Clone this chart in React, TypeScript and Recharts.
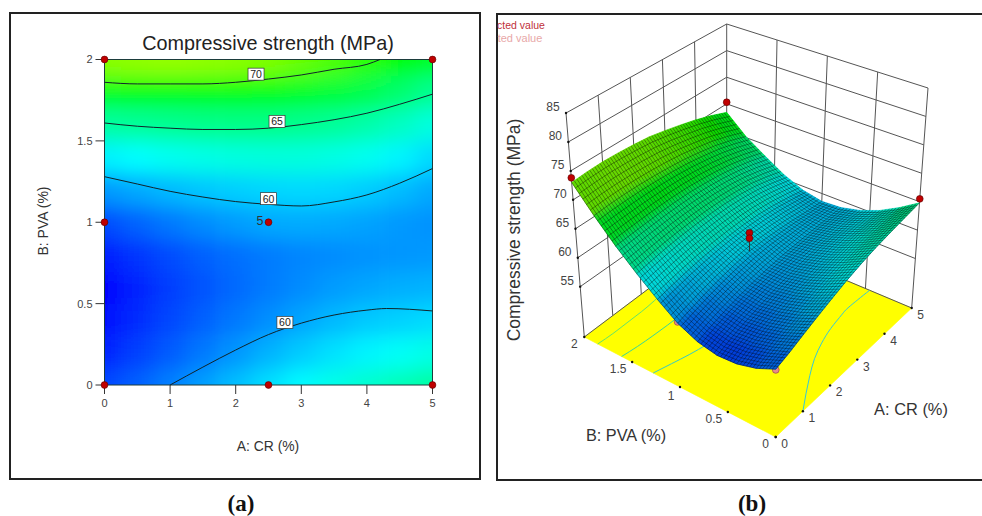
import React from 'react';
import { ComposedChart, Line, Scatter, XAxis, YAxis, ReferenceArea } from 'recharts';

// Strength, one list per B: PVA level, A: CR from 0 to 5 in steps of 0.5
const crLevels = [0, 0.5, 1, 1.5, 2, 2.5, 3, 3.5, 4, 4.5, 5];
const pvaLevels = [0, 0.2, 0.4, 0.6, 0.8, 1, 1.2, 1.4, 1.6, 1.8, 2];
const strengthPva00 = [56.2, 57.0, 58.0, 59.0, 60.0, 61.0, 61.9, 62.7, 63.4, 64.1, 64.8];
const strengthPva02 = [55.0, 56.0, 56.9, 57.8, 58.7, 59.6, 60.4, 61.1, 61.7, 62.2, 62.7];
const strengthPva04 = [54.3, 55.3, 56.2, 57.0, 57.8, 58.5, 59.2, 59.8, 60.3, 60.6, 60.9];
const strengthPva06 = [54.2, 55.1, 55.9, 56.6, 57.3, 57.9, 58.4, 58.9, 59.2, 59.5, 59.6];
const strengthPva08 = [54.9, 55.7, 56.4, 57.0, 57.5, 57.9, 58.2, 58.4, 58.6, 58.7, 58.8];
const strengthPva10 = [56.4, 57.1, 57.8, 58.4, 58.9, 59.3, 59.4, 59.3, 59.1, 58.8, 58.6];
const strengthPva12 = [58.8, 59.3, 59.8, 60.2, 60.5, 60.7, 60.8, 60.7, 60.4, 59.9, 59.3];
const strengthPva14 = [61.6, 62.0, 62.4, 62.7, 62.9, 63.0, 63.0, 62.8, 62.4, 61.7, 60.8];
const strengthPva16 = [64.8, 65.0, 65.2, 65.4, 65.5, 65.5, 65.3, 65.0, 64.5, 63.8, 62.9];
const strengthPva18 = [68.6, 68.8, 68.9, 68.9, 68.8, 68.6, 68.3, 67.8, 67.2, 66.3, 65.2];
const strengthPva20 = [73.0, 73.2, 73.3, 73.2, 73.0, 72.7, 72.1, 71.4, 70.6, 69.6, 68.4];
const strengthRows = [
  strengthPva00, strengthPva02, strengthPva04, strengthPva06, strengthPva08, strengthPva10,
  strengthPva12, strengthPva14, strengthPva16, strengthPva18, strengthPva20,
];

// Contour lines as [A, B]
const contour70 = [[0, 1.86], [0.5, 1.85], [1, 1.85], [1.5, 1.85], [2, 1.86], [2.5, 1.88], [3, 1.905], [3.5, 1.94], [4, 1.97], [4.2, 2]];
const contour65 = [[0, 1.61], [0.5, 1.59], [1, 1.578], [1.5, 1.57], [2, 1.57], [2.5, 1.578], [3, 1.6], [3.5, 1.63], [4, 1.67], [4.5, 1.725], [5, 1.787]];
const contour60Upper = [[0, 1.28], [0.5, 1.235], [1, 1.19], [1.5, 1.155], [2, 1.127], [2.5, 1.11], [3, 1.1], [3.5, 1.125], [4, 1.168], [4.5, 1.24], [5, 1.33]];
const contour60Lower = [[1, 0], [1.5, 0.11], [2, 0.215], [2.5, 0.31], [3, 0.38], [3.5, 0.43], [4, 0.46], [4.3, 0.47], [5, 0.455]];
const contourLines = [contour70, contour65, contour60Upper, contour60Lower];
const floorContourColors = ['#63e36a', '#38d69a', '#35c9c8', '#35c9d8'];

const contourLabels = [
  { x: 2.31, y: 1.91, text: '70' },
  { x: 2.63, y: 1.62, text: '65' },
  { x: 2.5, y: 1.145, text: '60' },
  { x: 2.75, y: 0.385, text: '60' },
];

// Design points, [A, B]
const designPoints = [[0, 0], [2.5, 0], [5, 0], [0, 1], [2.5, 1], [0, 2], [5, 2]];
// Measured values for the 3D panel, [A, B, MPa]
const pointsAbove = [[0, 2, 73.8], [5, 2, 70.3], [5, 0, 65.5], [2.5, 1, 62.4], [2.5, 1, 61.5]];
const pointsBelow = [[0, 0, 56.1], [0, 1, 56.6], [2.5, 0, 62]];

const crTicks = [0, 1, 2, 3, 4, 5];
const pvaTicks = [0, 0.5, 1, 1.5, 2];
const strengthTicks = [55, 60, 65, 70, 75, 80, 85];

const font = '"Liberation Sans", Arial, sans-serif';

// value -> Design-Expert style colour ramp
const ramp = [
  [54, 0, 0, 255],
  [62, 0, 255, 255],
  [69.5, 0, 255, 0],
  [76, 255, 255, 0],
];
const heatColor = (v: number, shade = 1) => {
  let i = 0;
  while (i < ramp.length - 2 && v > ramp[i + 1][0]) i++;
  const a = ramp[i];
  const b = ramp[i + 1];
  const t = Math.max(0, Math.min(1, (v - a[0]) / (b[0] - a[0])));
  const c = [1, 2, 3].map(k => Math.round((a[k] + (b[k] - a[k]) * t) * shade));
  return `rgb(${c[0]},${c[1]},${c[2]})`;
};

// ---- left panel ----
const plotW = 328;
const plotH = 325.5;

const heatCells = strengthRows.flatMap((row, r) =>
  row.map((value, c) => ({ x: crLevels[c], y: pvaLevels[r], value, r, c }))
);

const HeatCell = (p: any) => {
  const { cx, cy, payload } = p;
  const w = plotW / 10;
  const h = plotH / 10;
  const left = payload.c === 0 ? cx - 40 : cx - w / 2;
  const right = payload.c === 10 ? cx + 40 : cx + w / 2 + 0.5;
  const top = payload.r === 10 ? cy - 40 : cy - h / 2;
  const bottom = payload.r === 0 ? cy + 40 : cy + h / 2 + 0.5;
  return <rect x={left} y={top} width={right - left} height={bottom - top} fill={heatColor(payload.value)} />;
};

const RedDot = (p: any) => (
  <circle cx={p.cx} cy={p.cy} r={3.4} fill="#c00000" stroke="#5a0000" strokeWidth={0.6} />
);
const PinkDot = (p: any) => (
  <circle cx={p.cx} cy={p.cy} r={3.4} fill="#e88a8a" stroke="#8a3a3a" strokeWidth={0.6} />
);

const LabelBox = (p: any) => (
  <g>
    <rect x={p.cx - 8} y={p.cy - 6} width={16} height={12} fill="#fff" stroke="#333" strokeWidth={0.7} />
    <text x={p.cx} y={p.cy + 4} textAnchor="middle" fontSize={10.5} fontFamily={font} fill="#222">
      {p.payload.text}
    </text>
  </g>
);

const ContourPanel = () => (
  <ComposedChart width={490} height={516} margin={{ left: 64.5, right: 57.5, top: 59.5, bottom: 101 }}>
    <defs>
      <filter id="heatBlur" filterUnits="userSpaceOnUse" x={40} y={0} width={460} height={450}>
        <feGaussianBlur stdDeviation="11 10" />
      </filter>
      <clipPath id="plotClip">
        <rect x={104.5} y={59.5} width={plotW} height={plotH} />
      </clipPath>
    </defs>
    <XAxis
      type="number"
      dataKey="x"
      domain={[0, 5]}
      ticks={crTicks}
      height={30}
      tickSize={9}
      tickMargin={5}
      axisLine={false}
      tickLine={{ stroke: '#333' }}
      tick={{ fontSize: 11, fill: '#444', fontFamily: font }}
    />
    <YAxis
      type="number"
      dataKey="y"
      domain={[0, 2]}
      ticks={pvaTicks}
      width={40}
      tickSize={9}
      tickMargin={3}
      axisLine={false}
      tickLine={{ stroke: '#333' }}
      tick={{ fontSize: 11, fill: '#444', fontFamily: font }}
    />
    <Scatter className="heat-layer" zIndex={50} data={heatCells} shape={HeatCell} isAnimationActive={false} />
    <ReferenceArea x1={0} x2={5} y1={0} y2={2} fill="none" stroke="#1c3c3c" strokeWidth={1} ifOverflow="visible" zIndex={300} />
    {contourLines.map((line, i) => (
      <Line
        key={i}
        zIndex={400}
        data={line.map(([x, y]) => ({ x, y }))}
        dataKey="y"
        type="monotone"
        stroke="#10242a"
        strokeWidth={1}
        dot={false}
        activeDot={false}
        isAnimationActive={false}
      />
    ))}
    <Scatter zIndex={600} data={contourLabels} shape={LabelBox} isAnimationActive={false} />
    <Scatter zIndex={700} data={designPoints.map(([x, y]) => ({ x, y }))} shape={RedDot} isAnimationActive={false} />
  </ComposedChart>
);

// ---- right panel: a projected view, plotted 1:1 on hidden axes ----
const sceneW = 492;
const sceneH = 516;
const floorPts = { a0b0: [285.7, 437], a1b0: [421.7, 308], a0b1: [94.3, 337], a1b1: [236.7, 230] };
const topPts = { a0b0: [286, 172], a1b0: [438, 88], a0b1: [76, 113], a1b1: [236.7, 24] };
const zMin = 46.3;
const zMax = 85;

const bilerp = (q: any, u: number, v: number, k: number) =>
  q.a0b0[k] * (1 - u) * (1 - v) + q.a1b0[k] * u * (1 - v) + q.a0b1[k] * (1 - u) * v + q.a1b1[k] * u * v;

const project = (a: number, b: number, z: number) => {
  const u = a / 5;
  const v = b / 2;
  const t = (z - zMin) / (zMax - zMin);
  const fx = bilerp(floorPts, u, v, 0);
  const fy = bilerp(floorPts, u, v, 1);
  return { x: fx + (bilerp(topPts, u, v, 0) - fx) * t, y: fy + (bilerp(topPts, u, v, 1) - fy) * t };
};

// surface cells, back to front so nearer ones paint last
const surfaceCells: any[] = [];
for (let r = 9; r >= 0; r--) {
  for (let c = 9; c >= 0; c--) {
    const nodes = [
      project(crLevels[c], pvaLevels[r], strengthRows[r][c]),
      project(crLevels[c + 1], pvaLevels[r], strengthRows[r][c + 1]),
      project(crLevels[c + 1], pvaLevels[r + 1], strengthRows[r + 1][c + 1]),
      project(crLevels[c], pvaLevels[r + 1], strengthRows[r + 1][c]),
    ];
    const mean = (strengthRows[r][c] + strengthRows[r][c + 1] + strengthRows[r + 1][c] + strengthRows[r + 1][c + 1]) / 4;
    const x = nodes.reduce((s, n) => s + n.x, 0) / 4;
    const y = nodes.reduce((s, n) => s + n.y, 0) / 4;
    // the 3D view runs a little warmer than the flat map
    surfaceCells.push({ x, y, fill: heatColor(mean + 1.5, 0.85), corners: nodes.map(n => ({ dx: n.x - x, dy: n.y - y })) });
  }
}

const outline = [
  ...crLevels.map((a, c) => project(a, 0, strengthRows[0][c])),
  ...pvaLevels.map((b, r) => project(5, b, strengthRows[r][10])),
  ...crLevels.map((a, c) => project(a, 2, strengthRows[10][c])).reverse(),
  ...pvaLevels.map((b, r) => project(0, b, strengthRows[r][0])).reverse(),
];

const FilledQuad = (p: any) => (
  <polygon
    points={p.payload.corners.map((c: any) => `${p.cx + c.dx},${p.cy + c.dy}`).join(' ')}
    fill={p.payload.fill}
    stroke={p.payload.fill}
    strokeWidth={0.6}
  />
);

const meshSteps = [0, 1, 2, 3, 4, 5];
const MeshQuad = (p: any) => {
  const [c0, c1, c2, c3] = p.payload.corners;
  const mix = (m: any, n: any, t: number) => [p.cx + m.dx + (n.dx - m.dx) * t, p.cy + m.dy + (n.dy - m.dy) * t];
  const d = meshSteps
    .map(i => {
      const t = i / 6;
      const [ax, ay] = mix(c0, c1, t);
      const [bx, by] = mix(c3, c2, t);
      const [ex, ey] = mix(c0, c3, t);
      const [fx, fy] = mix(c1, c2, t);
      return `M${ax} ${ay}L${bx} ${by}M${ex} ${ey}L${fx} ${fy}`;
    })
    .join('');
  return <path d={d} stroke="#000" strokeWidth={0.5} strokeOpacity={0.72} fill="none" />;
};

const floorCenter = project(2.5, 1, zMin);
const floorCell = {
  ...floorCenter,
  fill: '#ffff00',
  corners: [project(0, 0, zMin), project(5, 0, zMin), project(5, 2, zMin), project(0, 2, zMin)].map(n => ({
    dx: n.x - floorCenter.x,
    dy: n.y - floorCenter.y,
  })),
};

// wall grid lines
const wallLines: { x: number; y: number }[][] = [
  [project(0, 2, zMin), project(0, 2, zMax)],
  [project(5, 2, zMin), project(5, 2, zMax)],
  [project(5, 0, zMin), project(5, 0, zMax)],
  ...crTicks.slice(1, 5).map(a => [project(a, 2, zMin), project(a, 2, zMax)]),
  ...pvaTicks.slice(1, 4).map(b => [project(5, b, zMin), project(5, b, zMax)]),
  ...strengthTicks.map(z => [project(0, 2, z), project(5, 2, z), project(5, 0, z)]),
  [project(0, 2, zMin), project(5, 2, zMin), project(5, 0, zMin)],
];

const centerStem = [project(2.5, 1, 61.5), project(2.5, 1, 59.3)];

const TickText = (p: any) => (
  <g>
    <circle cx={p.cx} cy={p.cy} r={1.2} fill="#111" />
    <text
      x={p.cx + p.payload.dx}
      y={p.cy + p.payload.dy + 4}
      textAnchor="middle"
      fontSize={12}
      fontFamily={font}
      fill="#444"
    >
      {p.payload.text}
    </text>
  </g>
);

const strengthTickMarks = strengthTicks.map(z => ({ ...project(0, 2, z), text: String(z), dx: -13, dy: -6 }));
const crTickMarks = crTicks.map(a => ({ ...project(a, 0, zMin), text: String(a), dx: 9, dy: 7 }));
const pvaTickMarks = pvaTicks.map(b => ({
  ...project(0, b, zMin),
  text: String(b),
  dx: b === 0 || b === 2 ? -10 : b === 1 ? -9 : -14,
  dy: b === 1 ? 9 : 7,
}));

const outlinePoints = outline.map(n => `${n.x},${n.y}`).join(' ');

const SurfacePanel = () => (
  <ComposedChart width={sceneW} height={sceneH} margin={{ left: 0, right: 0, top: 0, bottom: 0 }}>
    <defs>
      <filter id="surfaceBlur" filterUnits="userSpaceOnUse" x={0} y={0} width={sceneW} height={sceneH}>
        <feGaussianBlur stdDeviation={5} />
      </filter>
      <clipPath id="surfaceClip">
        <polygon points={outlinePoints} />
      </clipPath>
    </defs>
    <XAxis hide type="number" dataKey="x" domain={[0, sceneW]} />
    <YAxis hide reversed type="number" dataKey="y" domain={[0, sceneH]} />
    <Scatter zIndex={100} data={[floorCell]} shape={FilledQuad} isAnimationActive={false} />
    {wallLines.map((line, i) => (
      <Line
        key={i}
        zIndex={200}
        data={line}
        dataKey="y"
        type="linear"
        stroke="#555"
        strokeWidth={1}
        dot={false}
        activeDot={false}
        isAnimationActive={false}
      />
    ))}
    {contourLines.map((line, i) => (
      <Line
        key={i}
        zIndex={300}
        data={line.map(([a, b]) => project(a, b, zMin))}
        dataKey="y"
        type="natural"
        stroke={floorContourColors[i]}
        strokeWidth={1}
        dot={false}
        activeDot={false}
        isAnimationActive={false}
      />
    ))}
    <Scatter
      zIndex={400}
      data={pointsBelow.map(([a, b, z]) => project(a, b, z))}
      shape={PinkDot}
      isAnimationActive={false}
    />
    <Scatter zIndex={500} data={surfaceCells} shape={FilledQuad} isAnimationActive={false} />
    <Scatter zIndex={510} className="surface-layer" data={surfaceCells} shape={FilledQuad} isAnimationActive={false} />
    <Scatter zIndex={520} data={surfaceCells} shape={MeshQuad} isAnimationActive={false} />
    <Line
      zIndex={600}
      data={centerStem}
      dataKey="y"
      type="linear"
      stroke="#333"
      strokeWidth={1}
      dot={false}
      activeDot={false}
      isAnimationActive={false}
    />
    <Scatter
      zIndex={700}
      data={pointsAbove.map(([a, b, z]) => project(a, b, z))}
      shape={RedDot}
      isAnimationActive={false}
    />
    <Scatter zIndex={800} data={strengthTickMarks} shape={TickText} isAnimationActive={false} />
    <Scatter zIndex={800} data={crTickMarks} shape={TickText} isAnimationActive={false} />
    <Scatter zIndex={800} data={pvaTickMarks} shape={TickText} isAnimationActive={false} />
  </ComposedChart>
);

const Note = ({ x, y, size = 13, color = '#333', rotate = 0, family = font, weight = 400, children }: any) => (
  <div
    style={{
      position: 'absolute',
      left: x,
      top: y,
      transform: `translate(-50%, -50%) rotate(${rotate}deg)`,
      fontSize: size,
      color,
      fontFamily: family,
      fontWeight: weight,
      whiteSpace: 'nowrap',
      lineHeight: 1,
    }}
  >
    {children}
  </div>
);

const App = () => (
  <div style={{ position: 'absolute', left: 0, top: 0, width: 982, height: 516, background: '#fff', overflow: 'hidden' }}>
    <style>{`
      .heat-layer { filter: url(#heatBlur); clip-path: url(#plotClip); }
      .surface-layer { filter: url(#surfaceBlur); clip-path: url(#surfaceClip); }
    `}</style>
    <div style={{ position: 'absolute', left: 9, top: 12, width: 468, height: 464, border: '2px solid #222', boxSizing: 'content-box' }} />
    <div style={{ position: 'absolute', left: 496, top: 13, width: 500, height: 464, border: '2px solid #222' }} />
    <div style={{ position: 'absolute', left: 0, top: 0 }}>
      <ContourPanel />
    </div>
    <div style={{ position: 'absolute', left: 490, top: 0 }}>
      <SurfacePanel />
    </div>
    <Note x={268} y={44} size={19.8} color="#222">Compressive strength (MPa)</Note>
    <Note x={268} y={447} size={13.9}>A: CR (%)</Note>
    <Note x={43} y={221} size={14} rotate={-90}>B: PVA (%)</Note>
    <Note x={260} y={221} size={12.5}>5</Note>
    <Note x={515} y={230} size={17.5} rotate={-90}>Compressive strength (MPa)</Note>
    <Note x={626} y={435} size={16.3}>B: PVA (%)</Note>
    <Note x={911} y={409} size={16.4}>A: CR (%)</Note>
    <Note x={521} y={25} size={10.5} color="#c0303a">cted value</Note>
    <Note x={520} y={38} size={11} color="#e8a8a8">ted value</Note>
    <Note x={241} y={503} size={23} weight={700} color="#111" family='"Liberation Serif", serif'>(a)</Note>
    <Note x={752} y={503} size={23} weight={700} color="#111" family='"Liberation Serif", serif'>(b)</Note>
  </div>
);

export default App;
